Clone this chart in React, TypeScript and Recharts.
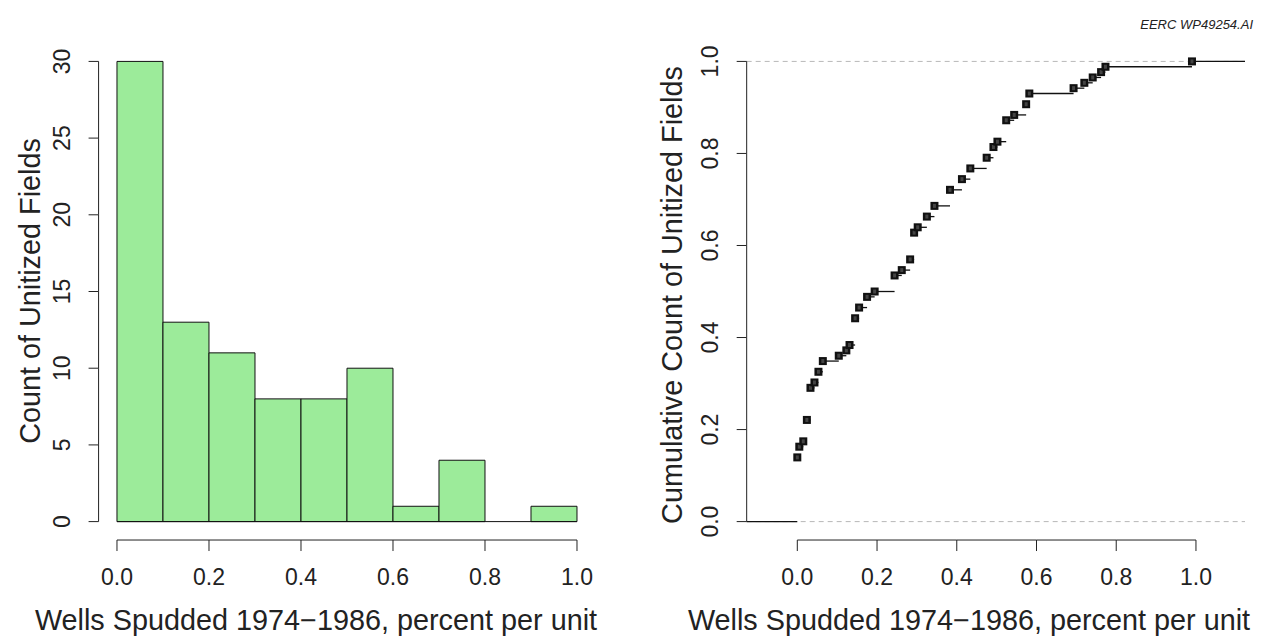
import React from "react";
import {
  Bar,
  ComposedChart,
  ReferenceLine,
  Scatter,
  XAxis,
  YAxis,
} from "recharts";

// histogram: bins of width 0.1 over [0, 1]
const binStarts = [0, 0.1, 0.2, 0.3, 0.4, 0.5, 0.6, 0.7, 0.8, 0.9];
const binCounts = [30, 13, 11, 8, 8, 10, 1, 4, 0, 1];
const binWidth = 0.1;
const fractionTicks = [0, 0.2, 0.4, 0.6, 0.8, 1];
const countTicks = [0, 5, 10, 15, 20, 25, 30];

// ecdf: distinct values and how many fields are <= that value
const ecdfValues = [
  0, 0.005, 0.015, 0.024, 0.033, 0.043, 0.053, 0.064, 0.104, 0.123, 0.131,
  0.145, 0.155, 0.175, 0.194, 0.244, 0.262, 0.283, 0.293, 0.302, 0.325, 0.344,
  0.383, 0.413, 0.434, 0.475, 0.492, 0.502, 0.524, 0.544, 0.574, 0.582, 0.693,
  0.72, 0.741, 0.762, 0.773, 0.99,
];
const ecdfCumCounts = [
  12, 14, 15, 19, 25, 26, 28, 30, 31, 32, 33, 38, 40, 42, 43, 46, 47, 49, 54,
  55, 57, 59, 62, 64, 66, 68, 70, 71, 75, 76, 78, 80, 81, 82, 83, 84, 85, 86,
];
const totalFields = 86;
const probTicks = [0, 0.2, 0.4, 0.6, 0.8, 1];

const FONT = "'Liberation Sans', Arial, Helvetica, sans-serif";
const INK = "#222";
const TICK_FONT = 23;
const TITLE_FONT = 28.8;

const histRows = binStarts.map((start, i) => ({
  mid: start + binWidth / 2,
  count: binCounts[i],
}));

const ecdfRows = ecdfValues.map((x, i) => ({ x, y: ecdfCumCounts[i] / totalFields }));

// R-style plot regions (where the axis lines sit)
const HIST_X: [number, number] = [-0.04, 1.04];
const HIST_Y: [number, number] = [-1.2, 31.2];
const ECDF_X: [number, number] = [-0.127, 1.123];
const ECDF_Y: [number, number] = [-0.04, 1.04];
// view domains are a few px wider so the axis lines sit inside the plot
const HIST_X_VIEW: [number, number] = [-0.053, 1.04];
const HIST_Y_VIEW: [number, number] = [-1.59, 31.2];
const ECDF_X_VIEW: [number, number] = [-0.142, 1.123];
const ECDF_Y_VIEW: [number, number] = [-0.053, 1.04];

const CHART_H = 636;
const Y_AXIS_W = 60;
const X_AXIS_H = 40;
const HIST_W = 634;
const ECDF_W = 635;
const HIST_MARGIN = { top: 43, right: 38.6, bottom: 50, left: 32.6 };
const ECDF_MARGIN = { top: 43, right: 24, bottom: 50, left: 46.7 };

type Frame = {
  axisX: number; // x of the R y-axis line
  axisY: number; // y of the R x-axis line
  pxPerX: number;
  pxPerY: number;
};

function frameOf(
  width: number,
  margin: typeof HIST_MARGIN,
  xView: [number, number],
  yView: [number, number],
  xEdge: number,
  yEdge: number
): Frame {
  const plotW = width - margin.left - margin.right - Y_AXIS_W;
  const plotH = CHART_H - margin.top - margin.bottom - X_AXIS_H;
  const pxPerX = plotW / (xView[1] - xView[0]);
  const pxPerY = plotH / (yView[1] - yView[0]);
  return {
    axisX: margin.left + Y_AXIS_W + (xEdge - xView[0]) * pxPerX,
    axisY: margin.top + (yView[1] - yEdge) * pxPerY,
    pxPerX,
    pxPerY,
  };
}

const histFrame = frameOf(HIST_W, HIST_MARGIN, HIST_X_VIEW, HIST_Y_VIEW, HIST_X[0], HIST_Y[0]);
const ecdfFrame = frameOf(ECDF_W, ECDF_MARGIN, ECDF_X_VIEW, ECDF_Y_VIEW, ECDF_X[0], ECDF_Y[0]);

// bottom axis: tick mark, label, and the piece of axis line up to the next tick
function makeBottomTick(frame: Frame, ticks: number[]) {
  return function BottomTick(props: any) {
    const { x, payload } = props;
    const i = ticks.indexOf(payload.value);
    const next = i >= 0 && i + 1 < ticks.length ? ticks[i + 1] : null;
    return (
      <g>
        {next != null && (
          <line
            x1={x}
            x2={x + (next - payload.value) * frame.pxPerX}
            y1={frame.axisY}
            y2={frame.axisY}
            stroke={INK}
          />
        )}
        <line x1={x} x2={x} y1={frame.axisY} y2={frame.axisY + 11} stroke={INK} />
        <text x={x} y={585} textAnchor="middle" fontSize={TICK_FONT} fontFamily={FONT} fill={INK}>
          {Number(payload.value).toFixed(1)}
        </text>
      </g>
    );
  };
}

// left axis: tick mark, rotated label, and the piece of axis line up to the next tick
function makeLeftTick(frame: Frame, ticks: number[], baselineX: number, digits: number) {
  return function LeftTick(props: any) {
    const { y, payload } = props;
    const i = ticks.indexOf(payload.value);
    const next = i >= 0 && i + 1 < ticks.length ? ticks[i + 1] : null;
    const label = digits ? Number(payload.value).toFixed(digits) : String(payload.value);
    return (
      <g>
        {next != null && (
          <line
            x1={frame.axisX}
            x2={frame.axisX}
            y1={y}
            y2={y - (next - payload.value) * frame.pxPerY}
            stroke={INK}
          />
        )}
        <line x1={frame.axisX - 10} x2={frame.axisX} y1={y} y2={y} stroke={INK} />
        <text
          x={baselineX}
          y={y}
          transform={`rotate(-90 ${baselineX} ${y})`}
          textAnchor="middle"
          fontSize={TICK_FONT}
          fontFamily={FONT}
          fill={INK}
        >
          {label}
        </text>
      </g>
    );
  };
}

const HistBottomTick = makeBottomTick(histFrame, fractionTicks);
const HistLeftTick = makeLeftTick(histFrame, countTicks, 70, 0);
const EcdfBottomTick = makeBottomTick(ecdfFrame, fractionTicks);
const EcdfLeftTick = makeLeftTick(ecdfFrame, probTicks, 84, 1);

function SquarePoint(props: any) {
  const { cx, cy } = props;
  if (cx == null || cy == null) return null;
  return (
    <g>
      <rect x={cx - 4} y={cy - 4} width={8} height={8} fill="#111" />
      <rect x={cx - 1.5} y={cy - 2} width={3} height={4} fill="#444" />
    </g>
  );
}

function Histogram() {
  return (
    <ComposedChart
      width={HIST_W}
      height={CHART_H}
      data={histRows}
      margin={HIST_MARGIN}
      barCategoryGap={0}
      barGap={0}
    >
      <XAxis
        xAxisId="num"
        dataKey="mid"
        type="number"
        domain={HIST_X_VIEW}
        allowDataOverflow
        ticks={fractionTicks}
        axisLine={false}
        tickLine={false}
        height={X_AXIS_H}
        tick={<HistBottomTick />}
      />
      <YAxis
        yAxisId="c"
        type="number"
        domain={HIST_Y_VIEW}
        allowDataOverflow
        ticks={countTicks}
        axisLine={false}
        tickLine={false}
        width={Y_AXIS_W}
        tick={<HistLeftTick />}
      />
      <Bar
        xAxisId="num"
        yAxisId="c"
        dataKey="count"
        fill="#9ceb9a"
        stroke="#111"
        strokeWidth={1}
        isAnimationActive={false}
      />
      <ReferenceLine
        xAxisId="num"
        yAxisId="c"
        segment={[
          { x: binStarts[0], y: 0 },
          { x: binStarts[binStarts.length - 1] + binWidth, y: 0 },
        ]}
        stroke="#111"
        ifOverflow="visible"
      />
    </ComposedChart>
  );
}

function Ecdf() {
  const steps = ecdfRows.map((row, i) => ({
    x1: row.x,
    x2: i + 1 < ecdfRows.length ? ecdfRows[i + 1].x : ECDF_X[1],
    y: row.y,
  }));
  return (
    <ComposedChart width={ECDF_W} height={CHART_H} margin={ECDF_MARGIN}>
      <XAxis
        xAxisId="p"
        dataKey="x"
        type="number"
        domain={ECDF_X_VIEW}
        allowDataOverflow
        ticks={fractionTicks}
        axisLine={false}
        tickLine={false}
        height={X_AXIS_H}
        tick={<EcdfBottomTick />}
      />
      <YAxis
        yAxisId="f"
        dataKey="y"
        type="number"
        domain={ECDF_Y_VIEW}
        allowDataOverflow
        ticks={probTicks}
        axisLine={false}
        tickLine={false}
        width={Y_AXIS_W}
        tick={<EcdfLeftTick />}
      />
      {[0, 1].map((level) => (
        <ReferenceLine
          key={`ref-${level}`}
          xAxisId="p"
          yAxisId="f"
          segment={[
            { x: ECDF_X[0], y: level },
            { x: ECDF_X[1], y: level },
          ]}
          stroke="#b8b8b8"
          strokeDasharray="5 4"
          ifOverflow="visible"
        />
      ))}
      <ReferenceLine
        xAxisId="p"
        yAxisId="f"
        segment={[
          { x: ECDF_X[0], y: 0 },
          { x: ecdfRows[0].x, y: 0 },
        ]}
        stroke="#111"
        strokeWidth={1.3}
        ifOverflow="visible"
      />
      {steps.map((s, i) => (
        <ReferenceLine
          key={i}
          xAxisId="p"
          yAxisId="f"
          segment={[
            { x: s.x1, y: s.y },
            { x: s.x2, y: s.y },
          ]}
          stroke="#111"
          strokeWidth={1.3}
          ifOverflow="visible"
        />
      ))}
      <Scatter
        xAxisId="p"
        yAxisId="f"
        data={ecdfRows}
        shape={<SquarePoint />}
        isAnimationActive={false}
      />
    </ComposedChart>
  );
}

export default function App() {
  const title = "Wells Spudded 1974\u22121986, percent per unit";
  return (
    <div
      style={{
        position: "absolute",
        left: 0,
        top: 0,
        width: 1269,
        height: 636,
        background: "#fff",
        overflow: "hidden",
      }}
    >
      <div style={{ position: "absolute", left: 0, top: 0 }}>
        <Histogram />
      </div>
      <div style={{ position: "absolute", left: 634, top: 0 }}>
        <Ecdf />
      </div>
      <svg
        width={1269}
        height={636}
        style={{ position: "absolute", left: 0, top: 0, pointerEvents: "none" }}
        fontFamily={FONT}
        fill={INK}
      >
        <text x={1253} y={29} textAnchor="end" fontSize={13} fontStyle="italic">
          EERC WP49254.AI
        </text>
        <text x={316} y={630} textAnchor="middle" fontSize={TITLE_FONT}>
          {title}
        </text>
        <text x={969} y={630} textAnchor="middle" fontSize={TITLE_FONT}>
          {title}
        </text>
        <text x={40} y={291} textAnchor="middle" fontSize={TITLE_FONT} transform="rotate(-90 40 291)">
          Count of Unitized Fields
        </text>
        <text x={682} y={295} textAnchor="middle" fontSize={TITLE_FONT} transform="rotate(-90 682 295)">
          Cumulative Count of Unitized Fields
        </text>
      </svg>
    </div>
  );
}
